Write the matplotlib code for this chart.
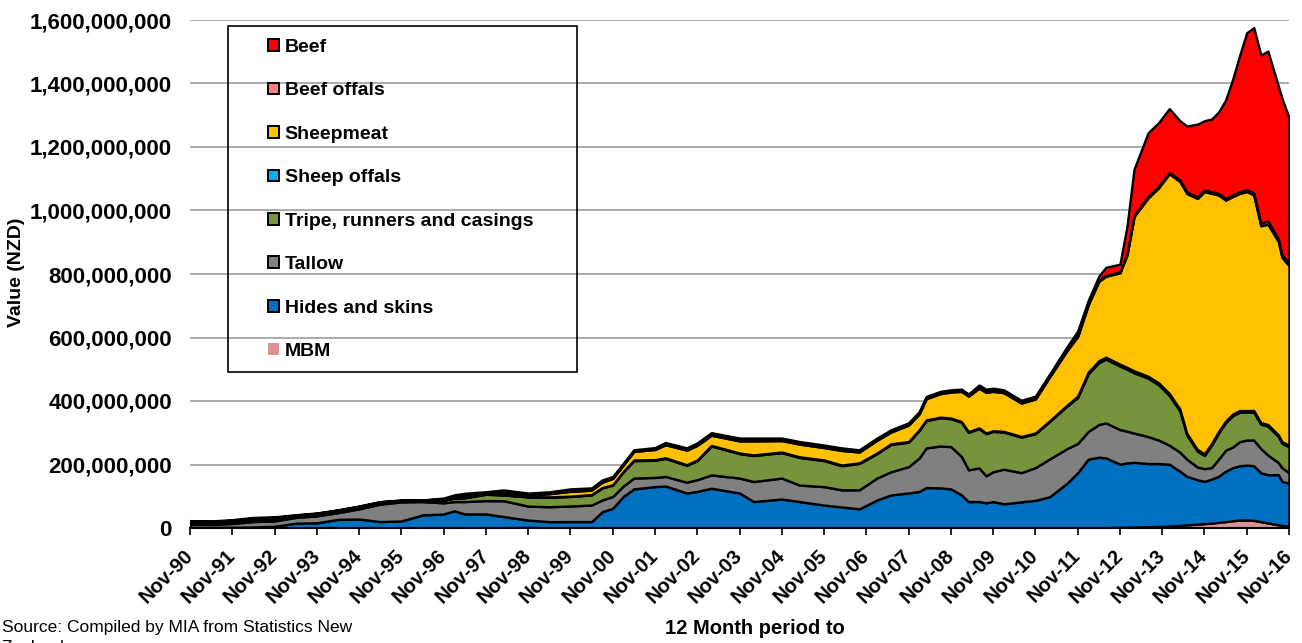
import matplotlib.pyplot as plt
from matplotlib.patches import Patch, Rectangle
from matplotlib.ticker import FuncFormatter

plt.rcParams['font.family'] = ['Liberation Sans', 'DejaVu Sans']

# months since Nov-90 (12 month rolling totals), values in NZD millions
months = [0, 6, 12, 18, 24, 30, 36, 42, 48, 54, 60, 66,
          72, 75, 78, 84, 89, 96, 102, 108, 114, 117, 120, 123, 126,
          132, 135, 141, 144, 148, 156, 160, 168, 173, 180,
          185, 190, 195, 199, 204, 207, 209, 213, 216, 219,
          221, 224, 226, 228, 231, 236, 240, 244, 249, 252,
          255, 258, 260, 264, 266, 268, 272, 275, 278, 281,
          283, 286, 288, 290, 292, 294, 296, 298, 300, 302,
          304, 306, 309, 310, 312]

mbm = [0.3] * 12 + \
      [0.3, 0.3, 0.3, 0.3, 1, 2, 0.5, 0.3, 0.3, 0.3, 0.3, 0.3, 0.3] + \
      [0.3] * 30 + \
      [0.5, 1, 1, 2, 2, 3, 4, 5, 6, 8] + \
      [10, 12, 14, 15, 18, 20, 23, 25, 25, 24] + \
      [20, 16, 10, 8, 6]

hides = [2, 2, 2, 3, 5, 15, 16, 27, 28, 20, 22, 41,
         44, 54, 44, 44, 35, 23, 19.5, 20, 20, 51, 62, 99, 123,
         130, 132, 110, 115, 125, 110, 83, 91, 83, 72,
         66, 60, 88, 104, 110, 115, 127, 126, 123, 104,
         83, 83, 79, 83, 76, 82, 87, 98, 141, 174,
         216.5, 222, 220, 199, 203, 204, 199, 198, 195, 171,
         153, 140, 133, 139, 145, 159, 167, 171, 173, 172,
         154, 152, 158, 139, 135]

tallow = [10, 9, 12, 17, 17, 18, 22, 21, 32, 55, 60, 42,
          35, 29, 39, 42, 50, 44, 47, 49, 52, 37, 37, 33, 34,
          29, 30, 34, 37, 42, 47, 63, 66, 52, 58,
          54, 60, 69, 73, 83, 105, 125, 132, 133, 121,
          100, 106, 85, 94, 109, 92, 103, 119, 109, 92,
          87, 103, 110, 109, 100, 92, 85, 74, 60, 60,
          54, 40, 40, 36, 54, 66, 65, 76, 79, 81,
          76, 62, 38, 43, 33]

tripe = [4, 4, 5, 6, 6, 3, 4, 4, 4, 3, 2, 2,
         8, 11, 12, 20, 18, 29, 30, 30, 32, 38, 36, 45, 55,
         54, 57, 53, 60, 91, 77, 82, 80, 87, 82,
         76, 83, 77, 86, 77, 87, 86, 89, 88, 108,
         118, 124, 133, 127, 117, 112, 107, 118, 134, 145,
         182, 195, 201, 200, 195, 190, 184, 174, 157, 130,
         76, 50, 42, 71, 82, 87, 99, 93, 88, 88,
         77, 91, 82, 77, 82]

sheep_offals = [1] * 12 + [1] * 12 + [2] + [2] * 20 + \
               [2, 2, 2, 2, 2, 2, 2, 2, 3, 4] + \
               [5, 6, 6, 6, 6, 6, 6, 6, 6, 6] + [5] * 15

sheepmeat = [3, 3, 3, 3, 3, 2, 2, 2, 2, 2, 1, 1,
             3, 4, 6, 3, 6, 5, 10, 15, 14, 17, 20, 20, 27,
             32, 41, 46, 46, 32, 38, 44, 36, 40, 39,
             46, 34, 40, 37, 52, 50, 67, 74, 82, 95,
             112, 125, 128, 124, 122, 105, 107, 138, 172, 188,
             212, 250, 255, 288, 354, 486, 562, 615, 692, 717,
             756, 791, 826, 788, 745, 696, 685, 684, 690, 679,
             620, 631, 609, 581, 565]

beef_offals = [1, 1, 1, 1, 1, 1, 1, 1, 1, 1, 1, 0.5,
               1, 1, 1, 1, 2, 2, 2, 2, 2, 2, 2, 2, 2,
               2, 2, 2, 3, 3, 3, 3, 3, 3, 3,
               3, 2, 2, 2, 2, 2, 2, 2, 2, 2,
               2, 3, 3, 3, 3, 3, 3, 3, 3, 3,
               3, 3, 3, 3, 3, 3, 4, 4, 4, 4,
               5, 5, 5, 5, 5, 5, 5, 5, 6, 6,
               8, 10, 8, 8, 8]

beef = [2, 2, 2, 2, 2, 1.5, 1, 1, 1, 1, 1, 0.5,
        2, 4, 6, 3, 7, 4, 4, 6, 5, 5, 4, 4, 3,
        4, 5, 5, 5, 5, 6, 6, 5, 5, 5,
        5, 5, 5, 5, 5, 5, 5, 5, 5, 5,
        5, 7, 7, 7, 6, 6, 6, 6, 9, 14,
        11, 13, 25, 24, 87, 146, 201, 201, 201, 187,
        207, 229, 218, 229, 256, 310, 364, 430, 494, 521,
        530, 535, 481, 492, 459]

series_names = ['MBM', 'Hides and skins', 'Tallow', 'Tripe, runners and casings',
                'Sheep offals', 'Sheepmeat', 'Beef offals', 'Beef']
series_colors = ['#D99594', '#0070C0', '#808080', '#77933C',
                 '#00B0F0', '#FFC000', '#FF8080', '#FF0000']

tick_labels = ['Nov-90', 'Nov-91', 'Nov-92', 'Nov-93', 'Nov-94', 'Nov-95', 'Nov-96',
               'Nov-97', 'Nov-98', 'Nov-99', 'Nov-00', 'Nov-01', 'Nov-02', 'Nov-03',
               'Nov-04', 'Nov-05', 'Nov-06', 'Nov-07', 'Nov-08', 'Nov-09', 'Nov-10',
               'Nov-11', 'Nov-12', 'Nov-13', 'Nov-14', 'Nov-15', 'Nov-16']

series = [mbm, hides, tallow, tripe, sheep_offals, sheepmeat, beef_offals, beef]
series = [[v * 1e6 for v in s] for s in series]

fig = plt.figure(figsize=(13.02, 6.43), dpi=100)
ax = fig.add_axes([190 / 1302, 1 - 528 / 643, 1099 / 1302, 508 / 643])

ax.stackplot(months, *series, colors=series_colors,
             edgecolor='black', linewidth=1.7, zorder=2)

ax.set_xlim(0, 312)
ax.set_ylim(0, 1.6e9)
ax.set_yticks([i * 2e8 for i in range(9)])
ax.yaxis.set_major_formatter(FuncFormatter(lambda v, p: f'{int(v):,}'))
ax.grid(axis='y', color='#A6A6A6', linewidth=1.3, zorder=0)
ax.set_axisbelow(True)

ax.set_xticks(range(0, 313, 12))
ax.set_xticklabels(tick_labels, rotation=45, ha='right', va='center',
                   rotation_mode='anchor')
ax.tick_params(axis='x', length=5, width=1.2, direction='out', pad=13,
               labelsize=14.5)
ax.tick_params(axis='y', length=0, pad=13, labelsize=16)
for lab in ax.get_xticklabels() + ax.get_yticklabels():
    lab.set_fontweight('bold')

for side in ['top', 'right', 'left']:
    ax.spines[side].set_visible(False)
ax.spines['bottom'].set_linewidth(1.5)
ax.spines['bottom'].set_zorder(3)

# legend, top entry first
handles = []
for name, col in zip(series_names[::-1], series_colors[::-1]):
    if name == 'MBM':
        handles.append(Patch(facecolor=col, edgecolor=col, linewidth=0, label=name))
    else:
        handles.append(Patch(facecolor=col, edgecolor='black', linewidth=1.4, label=name))
ax.legend(handles=handles, loc='upper left', frameon=False,
          bbox_to_anchor=(268 / 1302, 1 - 39 / 643), bbox_transform=fig.transFigure,
          borderpad=0, borderaxespad=0, handlelength=0.55, handleheight=0.55,
          handletextpad=0.3, labelspacing=1.36,
          prop={'weight': 'bold', 'size': 14})
fig.patches.append(Rectangle((228 / 1302, 1 - 372 / 643), 349 / 1302, 346 / 643,
                             transform=fig.transFigure, fill=False,
                             edgecolor='black', linewidth=1.2))

fig.text(17 / 1302, 1 - 272 / 643, 'Value (NZD)', rotation=90, ha='center',
         va='center', fontsize=14, fontweight='bold')
fig.text(755 / 1302, 1 - 629 / 643, '12 Month period to', ha='center',
         va='center', fontsize=14.5, fontweight='bold')
fig.text(2 / 1302, 1 - 620 / 643, 'Source: Compiled by MIA from Statistics New\nZealand',
         ha='left', va='top', fontsize=12.5, linespacing=1.45)

fig.savefig('out.png', dpi=100)
